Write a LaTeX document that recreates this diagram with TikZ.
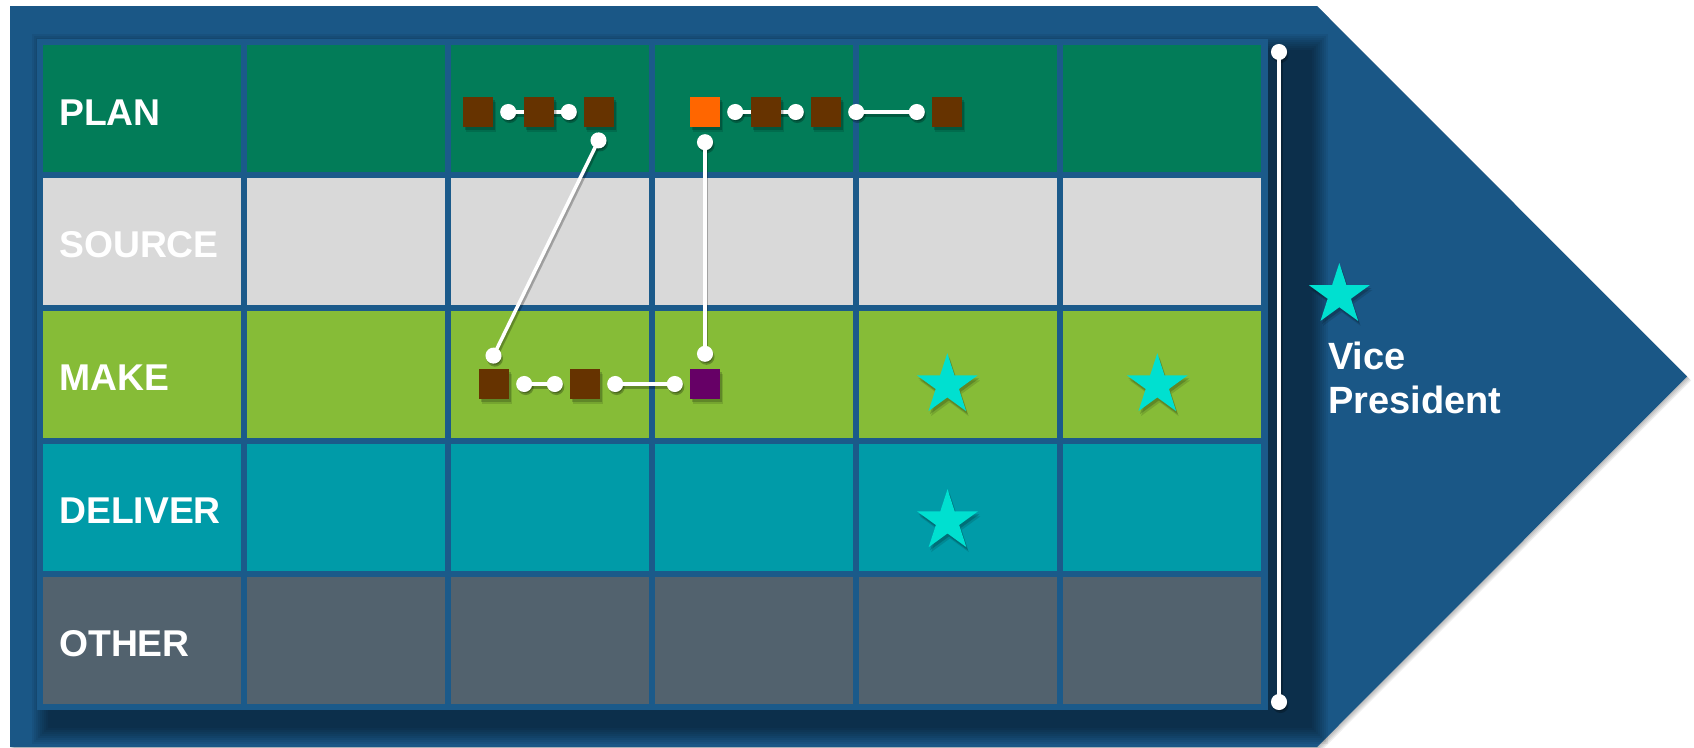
\documentclass[tikz,border=0pt]{standalone}
\usepackage{fontspec}
\setmainfont{Liberation Sans}
\usetikzlibrary{shapes.geometric,arrows.meta,shadows}
\definecolor{outerblue}{HTML}{1A5786}
\definecolor{gridblue}{HTML}{1B5A8A}
\definecolor{planc}{HTML}{027C58}
\definecolor{sourcec}{HTML}{D9D9D9}
\definecolor{makec}{HTML}{86BC37}
\definecolor{deliverc}{HTML}{009BA8}
\definecolor{otherc}{HTML}{52626E}
\definecolor{brownc}{HTML}{663300}
\definecolor{orangec}{HTML}{FF6600}
\definecolor{purplec}{HTML}{660066}
\definecolor{starc}{HTML}{00E0D0}
\pgfdeclarelayer{back}
\pgfdeclarelayer{conns}
\pgfsetlayers{back,conns,main}
\begin{document}
\begin{tikzpicture}[x=1pt,y=-1pt,
  cellbox/.style={draw=none, minimum width=198pt, minimum height=127pt, inner sep=0pt, anchor=north west},
  rowlabel/.style={anchor=base west, inner sep=0pt, text=white, font=\fontsize{37.3}{44}\selectfont\bfseries},
  vplabel/.style={anchor=base west, inner sep=0pt, text=white, font=\fontsize{38}{44}\selectfont\bfseries},
  softshadow/.style={general shadow={fill=black, opacity=0.18, shadow xshift=1.5pt, shadow yshift=-3pt},
                     general shadow={fill=black, opacity=0.12, shadow xshift=2.5pt, shadow yshift=-5pt}},
  task/.style={minimum size=30pt, inner sep=0pt, draw=none, softshadow},
  vstar/.style={star, star points=5, star point ratio=2.618, minimum size=64pt, inner sep=0pt, fill=starc, draw=none, softshadow},
  conn/.style={draw=white, line width=3.5pt, {Circle[length=16pt,width=16pt]}-{Circle[length=16pt,width=16pt]}, shorten <=7pt, shorten >=7pt},
  connshadow/.style={conn, draw=black, fill=black, opacity=0.25, transform canvas={xshift=1.5pt,yshift=-3pt}}
]
\useasboundingbox (0,0) rectangle (1694,747);

\begin{pgfonlayer}{back}
  % outer arrow shadow
  \foreach \s in {1,2,3,4}
    \fill[black, opacity=0.07] ({10+\s},{6+\s}) -- ({1317+\s},{6+\s}) -- ({1687+\s},{376.5+\s}) -- ({1317+\s},{747+\s}) -- ({10+\s},{747+\s}) -- cycle;
  % outer arrow
  \fill[outerblue] (10,6) -- (1317,6) -- (1687,376.5) -- (1317,747) -- (10,747) -- cycle;
  % table shadow (soft)
  \foreach \d in {-8,-6,...,8}
    \fill[black, opacity=0.059] ({40-\d},{42-\d}) rectangle ({1320+\d},{736+\d});
  % table background
  \fill[gridblue] (37,39) rectangle (1268,710);
  % cells
  \foreach \r/\col in {0/planc,1/sourcec,2/makec,3/deliverc,4/otherc}
    \foreach \c in {0,...,5}
      \node[cellbox, fill=\col] (cell-\r-\c) at ({43+204*\c},{45+133*\r}) {};
\end{pgfonlayer}

% row labels
\node[rowlabel] (lplan) at (59,125) {PLAN};
\node[rowlabel] (lsource) at (59,257.5) {SOURCE};
\node[rowlabel] (lmake) at (59,390.5) {MAKE};
\node[rowlabel] (ldeliver) at (59,523.5) {DELIVER};
\node[rowlabel] (lother) at (59,656.5) {OTHER};

% tasks in PLAN row
\node[task, fill=brownc] (p1) at (478,112) {};
\node[task, fill=brownc] (p2) at (539,112) {};
\node[task, fill=brownc] (p3) at (599,112) {};
\node[task, fill=orangec] (p4) at (705,112) {};
\node[task, fill=brownc] (p5) at (766,112) {};
\node[task, fill=brownc] (p6) at (826,112) {};
\node[task, fill=brownc] (p7) at (947,112) {};
% tasks in MAKE row
\node[task, fill=brownc] (m1) at (494,384) {};
\node[task, fill=brownc] (m2) at (585,384) {};
\node[task, fill=purplec] (m3) at (705,384) {};

% stars
\node[vstar] (s1) at (947.3,385.2) {};
\node[vstar] (s2) at (1157.3,385.2) {};
\node[vstar] (s3) at (947.5,521.2) {};
\node[vstar] (s4) at (1339.3,295) {};

% Vice President label
\node[vplabel] (vp1) at (1328,369) {Vice};
\node[vplabel] (vp2) at (1328,413) {President};

% vertical scale line
\coordinate (vt) at (1279,44);
\coordinate (vb) at (1279,710);

\begin{pgfonlayer}{conns}
  \foreach \a/\b in {p1.east/p3.west, p4.east/p6.west, p6.east/p7.west, m1.east/m2.west, m2.east/m3.west, p4.south/m3.north} {
    \draw[connshadow] (\a) -- (\b);
    \draw[conn] (\a) -- (\b);
  }
  \draw[connshadow, shorten <=0pt, shorten >=0pt] ([xshift=3pt,yshift=-6pt]p3.south) -- ([xshift=-4pt,yshift=6pt]m1.north);
  \draw[conn, shorten <=0pt, shorten >=0pt] ([xshift=3pt,yshift=-6pt]p3.south) -- ([xshift=-4pt,yshift=6pt]m1.north);
  \draw[connshadow, shorten <=0pt, shorten >=0pt, line width=4pt] (vt) -- (vb);
  \draw[conn, shorten <=0pt, shorten >=0pt, line width=4pt] (vt) -- (vb);
\end{pgfonlayer}
\end{tikzpicture}
\end{document}
